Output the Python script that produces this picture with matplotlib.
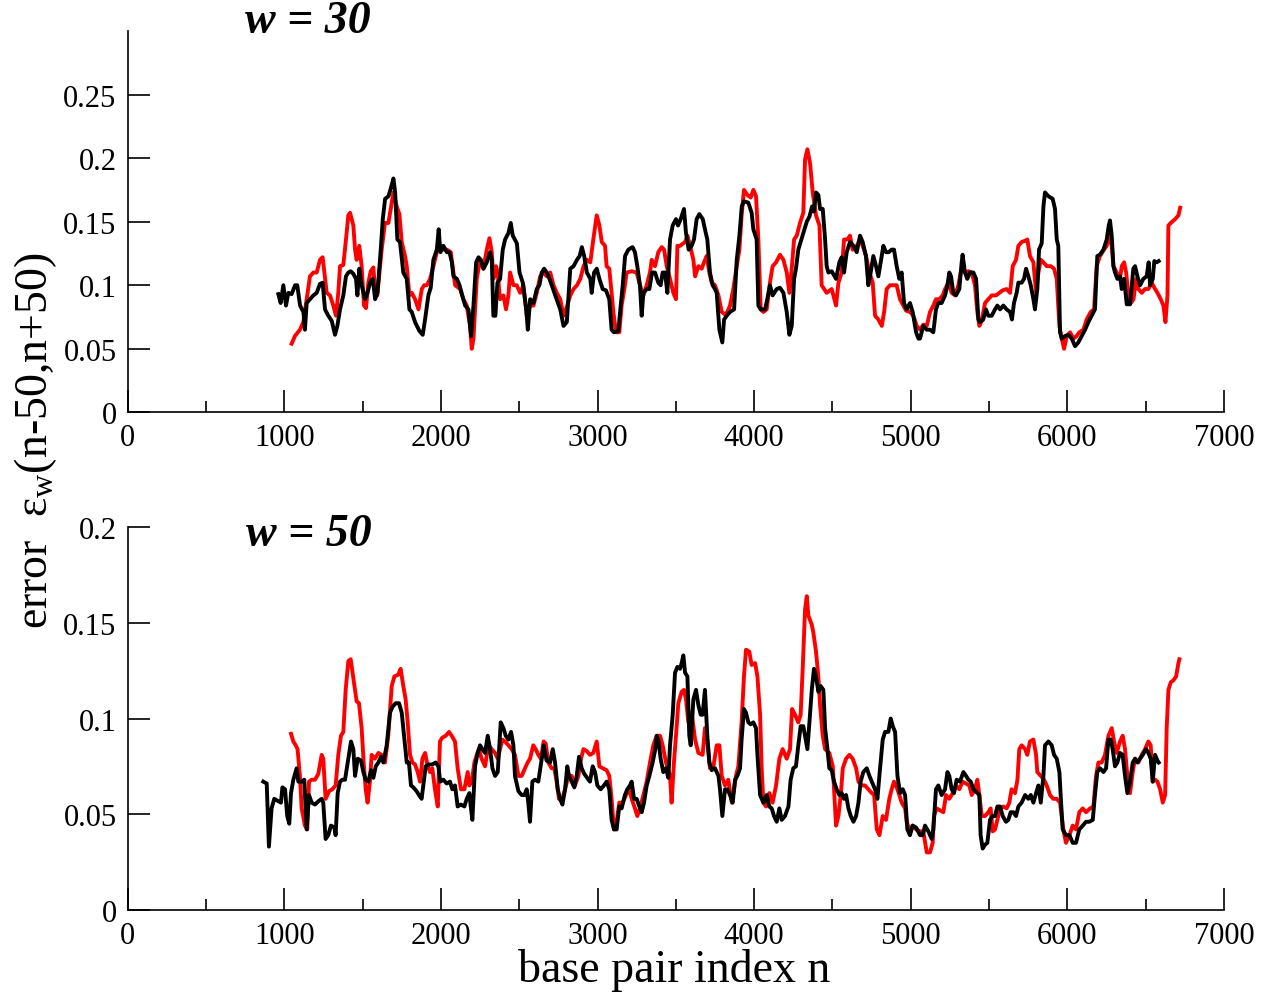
import numpy as np
import matplotlib
matplotlib.use('Agg')
import matplotlib.pyplot as plt
from matplotlib.ticker import MultipleLocator

plt.rcParams['font.family'] = ['Liberation Serif', 'DejaVu Serif']
plt.rcParams['mathtext.fontset'] = 'custom'
plt.rcParams['mathtext.rm'] = 'Liberation Serif'
plt.rcParams['mathtext.it'] = 'Liberation Serif:italic'

# (base pair index n, error)
# upper panel, w = 30
top_red = [(1047,0.054),(1068,0.060),(1100,0.065),(1122,0.071),(1143,0.089),(1164,0.107),(1186,0.110),(1207,0.110),(1228,0.120),(1245,0.122),(1271,0.094),(1292,0.092),(1313,0.084),(1330,0.076),(1345,0.094),(1356,0.115),(1377,0.116),(1394,0.136),(1409,0.155),(1420,0.157),(1441,0.147),(1452,0.128),(1462,0.120),(1479,0.131),(1494,0.115),(1509,0.084),(1522,0.082),(1537,0.102),(1552,0.111),(1569,0.114),(1579,0.097),(1594,0.092),(1622,0.128),(1643,0.149),(1665,0.149),(1682,0.162),(1697,0.173),(1718,0.162),(1735,0.156),(1750,0.134),(1771,0.123),(1782,0.115),(1799,0.092),(1814,0.094),(1835,0.089),(1857,0.081),(1878,0.097),(1893,0.100),(1910,0.100),(1931,0.105),(1952,0.115),(1974,0.126),(1995,0.131),(2016,0.128),(2038,0.128),(2063,0.126),(2080,0.110),(2091,0.100),(2123,0.097),(2144,0.089),(2165,0.084),(2186,0.068),(2197,0.050),(2208,0.058),(2229,0.105),(2250,0.120),(2271,0.113),(2293,0.128),(2310,0.137),(2325,0.126),(2335,0.105),(2352,0.115),(2361,0.111),(2378,0.089),(2399,0.092),(2416,0.081),(2431,0.092),(2442,0.110),(2463,0.100),(2484,0.100),(2506,0.094),(2527,0.100),(2548,0.076),(2570,0.084),(2591,0.084),(2612,0.094),(2634,0.107),(2655,0.110),(2676,0.107),(2698,0.110),(2719,0.100),(2740,0.094),(2762,0.089),(2783,0.076),(2794,0.079),(2826,0.092),(2847,0.097),(2869,0.100),(2890,0.105),(2911,0.115),(2932,0.120),(2954,0.118),
           (2973,0.136),(2995,0.155),(3012,0.147),(3027,0.134),(3048,0.131),(3058,0.115),(3075,0.113),(3090,0.094),(3101,0.079),(3118,0.063),(3139,0.063),(3154,0.084),(3175,0.100),(3186,0.110),(3218,0.111),(3250,0.110),(3271,0.100),(3293,0.092),(3314,0.100),(3335,0.110),(3346,0.120),(3367,0.115),(3388,0.126),(3410,0.130),(3425,0.128),(3442,0.115),(3463,0.105),(3484,0.094),(3501,0.089),(3510,0.131),(3527,0.131),(3559,0.134),(3574,0.139),(3591,0.131),(3612,0.120),(3623,0.107),(3644,0.115),(3665,0.113),(3680,0.118),(3697,0.123),(3714,0.110),(3729,0.102),(3750,0.100),(3772,0.092),(3793,0.079),(3814,0.077),(3829,0.079),(3846,0.084),(3867,0.097),(3889,0.115),(3906,0.128),(3920,0.155),(3935,0.175),(3957,0.171),(3978,0.169),(3995,0.175),(4012,0.170),(4027,0.136),(4042,0.081),(4059,0.079),(4080,0.081),(4101,0.102),(4118,0.115),(4140,0.118),(4165,0.124),(4187,0.120),(4208,0.110),(4225,0.094),(4240,0.113),(4255,0.136),(4272,0.139),(4293,0.149),(4314,0.157),(4325,0.199),(4340,0.207),(4357,0.196),(4374,0.173),(4395,0.155),(4417,0.147),(4431,0.100),(4463,0.094),(4495,0.097),(4523,0.084),(4538,0.102),(4559,0.110),(4574,0.136),(4595,0.136),(4612,0.139),(4629,0.128),(4655,0.131),(4676,0.136),(4693,0.131),(4714,0.123),(4736,0.110),(4757,0.102),(4772,0.076),(4793,0.073),(4815,0.068),(4830,0.079),(4846,0.097),(4868,0.100),(4889,0.100),(4910,0.100),(4931,0.089),(4953,0.084),(4970,0.080),(4995,0.079),(5017,0.076),(5038,0.068),(5059,0.065),
           (5080,0.069),(5102,0.068),(5123,0.079),(5144,0.084),(5161,0.089),(5182,0.089),(5204,0.092),(5219,0.097),(5240,0.102),(5261,0.094),(5283,0.092),(5304,0.100),(5319,0.110),(5331,0.115),(5346,0.110),(5368,0.111),(5389,0.110),(5410,0.100),(5425,0.079),(5438,0.068),(5453,0.072),(5474,0.086),(5495,0.089),(5517,0.092),(5544,0.092),(5566,0.094),(5587,0.096),(5612,0.097),(5634,0.094),(5651,0.115),(5672,0.120),(5687,0.131),(5708,0.134),(5730,0.135),(5744,0.136),(5761,0.123),(5783,0.118),(5800,0.094),(5815,0.110),(5830,0.120),(5847,0.118),(5868,0.115),(5894,0.115),(5915,0.113),(5932,0.105),(5949,0.068),(5964,0.058),(5979,0.050),(5996,0.060),(6017,0.063),(6038,0.058),(6059,0.060),(6076,0.063),(6102,0.065),(6123,0.073),(6149,0.079),(6170,0.081),(6187,0.115),(6208,0.123),(6234,0.128),(6251,0.131),(6268,0.139),(6283,0.131),(6294,0.115),(6315,0.110),(6336,0.105),(6347,0.115),(6362,0.118),(6375,0.110),(6390,0.092),(6405,0.086),(6422,0.089),(6439,0.105),(6454,0.097),(6475,0.094),(6496,0.097),(6517,0.097),(6538,0.102),(6560,0.097),(6575,0.094),(6596,0.089),(6613,0.084),(6626,0.071),(6639,0.092),(6645,0.147),(6660,0.149),(6688,0.152),(6709,0.155),(6720,0.161)]

top_black = [(962,0.093),(977,0.086),(994,0.100),(1011,0.084),(1026,0.094),(1047,0.093),(1069,0.100),(1083,0.100),(1101,0.084),(1122,0.079),(1132,0.065),(1143,0.086),(1164,0.089),(1186,0.092),(1207,0.094),(1228,0.101),(1245,0.102),(1260,0.081),(1281,0.076),(1303,0.072),(1324,0.061),(1339,0.068),(1356,0.081),(1377,0.092),(1394,0.107),(1409,0.110),(1424,0.111),(1441,0.109),(1458,0.105),(1467,0.092),(1479,0.113),(1494,0.100),(1516,0.089),(1531,0.094),(1548,0.102),(1565,0.105),(1580,0.089),(1595,0.094),(1616,0.128),(1629,0.152),(1644,0.168),(1665,0.170),(1682,0.177),(1697,0.184),(1708,0.173),(1722,0.136),(1739,0.134),(1760,0.110),(1782,0.105),(1799,0.081),(1814,0.079),(1835,0.071),(1863,0.064),(1884,0.061),(1899,0.073),(1920,0.092),(1935,0.098),(1952,0.120),(1974,0.128),(1986,0.144),(1997,0.126),(2016,0.131),(2038,0.126),(2055,0.126),(2070,0.118),(2080,0.107),(2102,0.105),(2119,0.100),(2136,0.092),(2155,0.084),(2176,0.081),(2193,0.060),(2208,0.084),(2225,0.118),(2240,0.122),(2255,0.120),(2272,0.113),(2293,0.118),(2314,0.126),(2325,0.120),(2335,0.076),(2348,0.076),(2361,0.102),(2378,0.105),(2395,0.128),(2410,0.136),(2431,0.141),(2446,0.149),(2459,0.139),(2485,0.133),(2502,0.110),(2523,0.102),(2545,0.081),(2555,0.065),(2570,0.089),(2591,0.086),(2612,0.097),(2629,0.100),(2644,0.110),(2659,0.113),(2676,0.110),(2693,0.105),(2708,0.100),(2730,0.092),(2762,0.081),(2783,0.068),(2804,0.071),(2826,0.113),(2847,0.115),(2869,0.120),(2886,0.123),(2900,0.130),(2915,0.123),(2932,0.110),(2954,0.105),
             (2963,0.094),(2978,0.110),(2995,0.113),(3012,0.105),(3033,0.097),(3054,0.096),(3075,0.089),(3090,0.065),(3105,0.063),(3133,0.064),(3148,0.084),(3161,0.100),(3176,0.123),(3197,0.128),(3224,0.130),(3239,0.126),(3254,0.115),(3271,0.100),(3282,0.076),(3293,0.094),(3314,0.097),(3331,0.097),(3348,0.110),(3367,0.110),(3388,0.102),(3403,0.100),(3416,0.110),(3431,0.110),(3446,0.094),(3463,0.136),(3480,0.147),(3501,0.152),(3514,0.147),(3531,0.152),(3552,0.160),(3565,0.141),(3582,0.128),(3601,0.131),(3616,0.136),(3633,0.152),(3650,0.156),(3672,0.152),(3686,0.144),(3701,0.136),(3718,0.110),(3735,0.100),(3750,0.097),(3761,0.094),(3778,0.065),(3797,0.055),(3808,0.073),(3825,0.076),(3846,0.079),(3872,0.081),(3889,0.120),(3906,0.139),(3921,0.162),(3935,0.166),(3963,0.165),(3984,0.157),(3995,0.144),(4016,0.136),(4027,0.084),(4042,0.081),(4070,0.081),(4084,0.089),(4101,0.100),(4118,0.092),(4144,0.097),(4165,0.098),(4187,0.094),(4208,0.079),(4225,0.061),(4240,0.068),(4255,0.105),(4267,0.113),(4282,0.128),(4297,0.134),(4314,0.141),(4336,0.150),(4353,0.154),(4370,0.162),(4382,0.158),(4395,0.173),(4410,0.171),(4421,0.160),(4438,0.160),(4453,0.136),(4463,0.115),(4474,0.110),(4495,0.111),(4523,0.105),(4544,0.118),(4559,0.122),(4574,0.110),(4591,0.126),(4612,0.134),(4634,0.131),(4655,0.126),(4676,0.139),(4693,0.134),(4714,0.123),(4729,0.100),(4744,0.110),(4761,0.123),(4778,0.115),(4793,0.107),(4808,0.118),(4825,0.131),(4842,0.126),(4859,0.126),(4878,0.128),(4893,0.128),(4910,0.115),(4927,0.105),(4942,0.110),(4957,0.086),(4974,0.081),(4995,0.086),(5012,0.079),(5034,0.063),(5049,0.058),
             (5059,0.058),(5080,0.068),(5102,0.065),(5123,0.065),(5144,0.063),(5161,0.081),(5176,0.086),(5197,0.086),(5219,0.092),(5234,0.100),(5246,0.110),(5257,0.107),(5272,0.094),(5289,0.092),(5310,0.097),(5325,0.118),(5331,0.124),(5346,0.110),(5361,0.105),(5378,0.110),(5400,0.110),(5417,0.105),(5432,0.073),(5442,0.071),(5463,0.073),(5480,0.081),(5495,0.076),(5517,0.076),(5538,0.081),(5553,0.084),(5570,0.081),(5591,0.084),(5612,0.081),(5634,0.079),(5646,0.073),(5659,0.086),(5676,0.094),(5687,0.102),(5708,0.102),(5723,0.105),(5736,0.113),(5751,0.107),(5766,0.100),(5783,0.089),(5793,0.081),(5808,0.097),(5819,0.128),(5836,0.133),(5847,0.162),(5857,0.173),(5879,0.170),(5906,0.168),(5921,0.160),(5932,0.136),(5942,0.131),(5953,0.063),(5964,0.058),(5985,0.060),(6006,0.061),(6028,0.058),(6049,0.052),(6070,0.055),(6091,0.060),(6113,0.065),(6134,0.071),(6155,0.076),(6176,0.081),(6191,0.123),(6208,0.124),(6230,0.128),(6251,0.136),(6264,0.147),(6272,0.151),(6283,0.139),(6294,0.115),(6304,0.110),(6319,0.105),(6336,0.107),(6347,0.097),(6362,0.105),(6379,0.085),(6400,0.085),(6421,0.113),(6432,0.115),(6447,0.107),(6464,0.100),(6485,0.105),(6506,0.107),(6519,0.118),(6528,0.100),(6545,0.105),(6555,0.119),(6570,0.118),(6583,0.119)]

# lower panel, w = 50
bot_red = [(1043,0.092),(1058,0.088),(1073,0.086),(1085,0.084),(1100,0.070),(1111,0.053),(1132,0.044),(1147,0.042),(1158,0.067),(1175,0.068),(1196,0.068),(1217,0.071),(1239,0.081),(1249,0.079),(1264,0.058),(1286,0.062),(1307,0.063),(1328,0.065),(1345,0.081),(1362,0.091),(1377,0.093),(1392,0.115),(1409,0.130),(1424,0.131),(1441,0.121),(1462,0.109),(1477,0.108),(1494,0.095),(1507,0.077),(1520,0.063),(1532,0.056),(1547,0.067),(1558,0.081),(1579,0.079),(1601,0.082),(1622,0.081),(1643,0.077),(1664,0.091),(1686,0.117),(1703,0.122),(1728,0.123),(1743,0.126),(1760,0.117),(1775,0.110),(1788,0.098),(1803,0.081),(1818,0.077),(1835,0.076),(1852,0.072),(1867,0.067),(1882,0.079),(1899,0.082),(1916,0.075),(1931,0.072),(1945,0.074),(1962,0.063),(1980,0.054),(1994,0.088),(2009,0.090),(2031,0.091),(2052,0.093),(2069,0.091),(2090,0.088),(2107,0.074),(2128,0.063),(2150,0.063),(2171,0.072),(2182,0.065),(2197,0.067),(2214,0.077),(2229,0.081),(2243,0.084),(2260,0.079),(2282,0.075),(2303,0.086),(2324,0.084),(2346,0.082),(2363,0.079),(2378,0.084),(2392,0.089),(2409,0.088),(2431,0.086),(2452,0.084),(2473,0.081),(2495,0.070),(2516,0.070),(2537,0.074),(2554,0.077),(2569,0.079),(2590,0.086),(2605,0.084),(2622,0.081),(2639,0.079),(2656,0.088),(2669,0.087),(2686,0.077),(2707,0.074),(2724,0.074),(2739,0.067),(2754,0.058),(2771,0.057),(2793,0.063),(2814,0.070),(2835,0.070),(2856,0.065),(2878,0.070),(2895,0.079),(2910,0.084),(2931,0.083),
           (2952,0.081),(2973,0.082),(2995,0.088),(3012,0.075),(3033,0.074),(3058,0.073),(3075,0.070),(3090,0.058),(3105,0.042),(3122,0.046),(3139,0.056),(3161,0.056),(3182,0.060),(3203,0.063),(3218,0.058),(3239,0.053),(3254,0.049),(3271,0.053),(3293,0.060),(3314,0.067),(3335,0.077),(3356,0.086),(3378,0.091),(3399,0.091),(3416,0.086),(3437,0.077),(3463,0.070),(3473,0.056),(3488,0.077),(3501,0.091),(3516,0.108),(3537,0.114),(3552,0.115),(3565,0.110),(3580,0.098),(3601,0.103),(3623,0.089),(3644,0.082),(3671,0.081),(3686,0.095),(3701,0.088),(3718,0.074),(3740,0.075),(3761,0.086),(3778,0.086),(3793,0.070),(3814,0.065),(3835,0.068),(3857,0.056),(3872,0.063),(3884,0.070),(3899,0.075),(3920,0.098),(3935,0.122),(3948,0.136),(3969,0.135),(3984,0.128),(4006,0.129),(4021,0.122),(4038,0.102),(4048,0.074),(4059,0.056),(4076,0.054),(4097,0.061),(4118,0.056),(4140,0.065),(4161,0.079),(4182,0.084),(4208,0.079),(4229,0.084),(4242,0.105),(4261,0.102),(4282,0.098),(4297,0.102),(4310,0.126),(4325,0.157),(4336,0.164),(4346,0.154),(4368,0.149),(4378,0.145),(4395,0.135),(4410,0.122),(4421,0.107),(4438,0.091),(4453,0.084),(4480,0.082),(4502,0.075),(4523,0.044),(4538,0.049),(4553,0.060),(4566,0.074),(4587,0.079),(4608,0.081),(4629,0.079),(4651,0.074),(4666,0.067),(4687,0.065),(4708,0.065),(4729,0.063),(4751,0.061),(4766,0.060),(4783,0.042),(4800,0.039),(4821,0.049),(4842,0.047),(4863,0.058),(4878,0.063),(4893,0.067),(4906,0.065),(4927,0.060),(4942,0.056),(4964,0.053),(4974,0.046),(4991,0.042),(5012,0.044),(5034,0.042),(5059,0.041),
           (5080,0.041),(5102,0.030),(5123,0.030),(5140,0.035),(5148,0.049),(5165,0.053),(5187,0.052),(5208,0.051),(5225,0.060),(5246,0.058),(5268,0.061),(5289,0.065),(5310,0.063),(5331,0.067),(5353,0.066),(5374,0.065),(5389,0.060),(5410,0.063),(5425,0.068),(5438,0.060),(5453,0.049),(5474,0.049),(5495,0.051),(5510,0.053),(5523,0.041),(5538,0.042),(5553,0.047),(5570,0.053),(5591,0.054),(5612,0.053),(5629,0.056),(5644,0.063),(5666,0.061),(5681,0.068),(5693,0.084),(5708,0.086),(5730,0.084),(5744,0.081),(5761,0.088),(5783,0.089),(5800,0.081),(5808,0.072),(5830,0.070),(5851,0.068),(5868,0.065),(5889,0.060),(5910,0.058),(5932,0.058),(5953,0.056),(5974,0.042),(5991,0.035),(6013,0.039),(6034,0.044),(6055,0.042),(6076,0.051),(6098,0.053),(6119,0.051),(6145,0.053),(6166,0.054),(6183,0.070),(6198,0.077),(6219,0.077),(6240,0.081),(6262,0.091),(6283,0.095),(6298,0.088),(6315,0.082),(6336,0.088),(6353,0.091),(6368,0.084),(6383,0.070),(6400,0.061),(6417,0.072),(6432,0.079),(6453,0.077),(6475,0.081),(6496,0.084),(6517,0.088),(6532,0.086),(6545,0.067),(6560,0.068),(6575,0.067),(6592,0.063),(6609,0.056),(6624,0.060),(6634,0.095),(6645,0.115),(6660,0.119),(6677,0.120),(6694,0.122),(6709,0.129),(6715,0.131)]

bot_black = [(866,0.067),(888,0.066),(902,0.033),(919,0.053),(936,0.058),(958,0.057),(979,0.056),(988,0.064),(1005,0.063),(1019,0.049),(1032,0.045),(1043,0.061),(1058,0.068),(1079,0.074),(1090,0.067),(1111,0.067),(1128,0.068),(1143,0.042),(1158,0.060),(1175,0.056),(1196,0.055),(1222,0.057),(1239,0.058),(1249,0.056),(1264,0.037),(1281,0.039),(1298,0.044),(1320,0.043),(1328,0.039),(1341,0.061),(1356,0.067),(1371,0.068),(1388,0.068),(1405,0.077),(1426,0.088),(1441,0.084),(1452,0.070),(1469,0.079),(1490,0.078),(1505,0.072),(1520,0.068),(1537,0.067),(1554,0.073),(1569,0.069),(1584,0.075),(1601,0.077),(1618,0.080),(1633,0.077),(1654,0.086),(1675,0.103),(1690,0.106),(1711,0.108),(1733,0.108),(1750,0.103),(1767,0.089),(1782,0.077),(1796,0.077),(1809,0.065),(1824,0.064),(1845,0.062),(1860,0.060),(1877,0.058),(1888,0.065),(1903,0.075),(1924,0.076),(1945,0.076),(1967,0.077),(1984,0.075),(1996,0.067),(2016,0.068),(2037,0.066),(2058,0.067),(2073,0.063),(2090,0.065),(2107,0.054),(2128,0.055),(2150,0.054),(2165,0.058),(2182,0.061),(2192,0.053),(2201,0.047),(2218,0.075),(2235,0.082),(2250,0.086),(2265,0.084),(2282,0.082),(2299,0.091),(2314,0.084),(2329,0.074),(2346,0.070),(2363,0.072),(2382,0.098),(2399,0.095),(2414,0.091),(2431,0.089),(2448,0.093),(2463,0.086),(2473,0.070),(2495,0.062),(2516,0.060),(2533,0.060),(2548,0.063),(2558,0.056),(2569,0.046),(2584,0.067),(2601,0.068),(2622,0.067),(2644,0.079),(2656,0.086),(2675,0.078),(2697,0.077),(2714,0.084),(2729,0.077),(2746,0.063),(2761,0.058),(2776,0.055),(2793,0.063),(2807,0.075),(2818,0.070),(2835,0.067),(2852,0.064),(2867,0.070),(2882,0.080),(2899,0.074),(2916,0.071),(2942,0.068),
             (2952,0.067),(2969,0.075),(2984,0.072),(2999,0.065),(3020,0.063),(3041,0.065),(3058,0.067),(3075,0.063),(3090,0.047),(3105,0.042),(3122,0.042),(3139,0.054),(3154,0.053),(3175,0.060),(3190,0.063),(3207,0.065),(3218,0.067),(3233,0.058),(3250,0.058),(3267,0.054),(3282,0.051),(3297,0.056),(3314,0.065),(3331,0.070),(3352,0.077),(3369,0.084),(3378,0.091),(3390,0.088),(3403,0.079),(3420,0.072),(3437,0.074),(3452,0.069),(3463,0.086),(3480,0.102),(3495,0.124),(3510,0.127),(3527,0.126),(3537,0.129),(3548,0.133),(3559,0.124),(3574,0.122),(3586,0.091),(3595,0.086),(3612,0.110),(3629,0.115),(3644,0.107),(3659,0.102),(3671,0.102),(3686,0.115),(3701,0.091),(3714,0.077),(3729,0.073),(3750,0.074),(3772,0.070),(3782,0.063),(3797,0.049),(3814,0.063),(3829,0.063),(3846,0.060),(3863,0.056),(3878,0.068),(3893,0.070),(3910,0.074),(3920,0.089),(3935,0.105),(3948,0.103),(3963,0.098),(3978,0.097),(3995,0.098),(4012,0.095),(4021,0.081),(4038,0.060),(4059,0.056),(4080,0.060),(4097,0.054),(4112,0.053),(4127,0.049),(4144,0.046),(4161,0.053),(4176,0.047),(4197,0.049),(4219,0.054),(4233,0.068),(4250,0.074),(4267,0.075),(4282,0.086),(4297,0.096),(4314,0.096),(4325,0.091),(4340,0.084),(4353,0.098),(4368,0.115),(4382,0.126),(4395,0.122),(4410,0.114),(4425,0.117),(4442,0.115),(4453,0.095),(4468,0.084),(4480,0.074),(4495,0.073),(4510,0.067),(4527,0.063),(4544,0.060),(4559,0.061),(4574,0.058),(4587,0.060),(4602,0.053),(4617,0.049),(4634,0.046),(4651,0.049),(4666,0.056),(4680,0.067),(4697,0.072),(4719,0.074),(4736,0.070),(4751,0.067),(4772,0.063),(4787,0.058),(4804,0.074),(4821,0.089),(4836,0.093),(4857,0.093),(4872,0.100),(4885,0.096),(4900,0.093),(4915,0.070),(4932,0.061),(4949,0.063),(4964,0.060),(4978,0.042),(4995,0.039),(5012,0.044),(5034,0.043),(5059,0.039),
             (5076,0.039),(5091,0.044),(5112,0.041),(5134,0.037),(5144,0.042),(5161,0.063),(5176,0.065),(5197,0.060),(5219,0.063),(5234,0.072),(5246,0.070),(5261,0.063),(5276,0.061),(5293,0.068),(5314,0.067),(5336,0.072),(5353,0.070),(5368,0.068),(5383,0.067),(5400,0.063),(5425,0.061),(5438,0.060),(5446,0.039),(5459,0.032),(5474,0.034),(5489,0.035),(5506,0.047),(5523,0.049),(5538,0.049),(5553,0.054),(5570,0.054),(5587,0.049),(5608,0.046),(5623,0.047),(5638,0.051),(5655,0.051),(5672,0.049),(5687,0.054),(5708,0.056),(5730,0.060),(5751,0.058),(5766,0.060),(5783,0.056),(5800,0.061),(5815,0.065),(5830,0.056),(5847,0.070),(5857,0.086),(5879,0.088),(5900,0.086),(5915,0.081),(5932,0.079),(5949,0.072),(5957,0.060),(5970,0.042),(5991,0.039),(6013,0.039),(6034,0.035),(6055,0.035),(6076,0.042),(6098,0.044),(6119,0.046),(6140,0.046),(6162,0.047),(6176,0.060),(6191,0.072),(6208,0.074),(6230,0.072),(6247,0.074),(6262,0.089),(6277,0.089),(6289,0.084),(6304,0.075),(6319,0.077),(6336,0.082),(6353,0.081),(6368,0.070),(6383,0.061),(6400,0.067),(6417,0.077),(6432,0.079),(6447,0.077),(6464,0.079),(6481,0.081),(6502,0.084),(6517,0.082),(6532,0.079),(6545,0.067),(6560,0.081),(6575,0.078),(6583,0.077)]

x_ticks = [0, 1000, 2000, 3000, 4000, 5000, 6000, 7000]
x_labels = ['0', '1000', '2000', '3000', '4000', '5000', '6000', '7000']
top_yticks = [0, 0.05, 0.1, 0.15, 0.2, 0.25]
top_ylabels = ['0', '0.05', '0.1', '0.15', '0.2', '0.25']
bot_yticks = [0, 0.05, 0.1, 0.15, 0.2]
bot_ylabels = ['0', '0.05', '0.1', '0.15', '0.2']

fig = plt.figure(figsize=(12.65, 9.95), dpi=100)
ax1 = fig.add_axes([0.1009, 0.5846, 0.8667, 0.3832])
ax2 = fig.add_axes([0.1009, 0.0847, 0.8667, 0.3843])


def style_axis(ax, ymax, yticks, ylabels):
    ax.set_xlim(0, 7000)
    ax.set_ylim(0, ymax)
    for s in ['top', 'right']:
        ax.spines[s].set_visible(False)
    for s in ['left', 'bottom']:
        ax.spines[s].set_linewidth(1.2)
    ax.set_xticks(x_ticks)
    ax.set_xticklabels(x_labels)
    ax.xaxis.set_minor_locator(MultipleLocator(500))
    ax.set_yticks(yticks)
    ax.set_yticklabels(ylabels)
    ax.tick_params(which='major', direction='in', length=16, width=1.2,
                   labelsize=22, pad=8, top=False, right=False)
    ax.tick_params(which='minor', direction='in', length=8, width=1.2,
                   top=False, right=False)
    ax.tick_params(axis='y', which='minor', left=False)


for ax, red, black, ymax, yt, yl in [(ax1, top_red, top_black, 0.3, top_yticks, top_ylabels),
                                     (ax2, bot_red, bot_black, 0.2, bot_yticks, bot_ylabels)]:
    rn, rv = zip(*red)
    bn, bv = zip(*black)
    ax.plot(rn, rv, color='red', lw=2.8)
    ax.plot(bn, bv, color='black', lw=2.8)
    style_axis(ax, ymax, yt, yl)

fig.text(0.243, 0.978, 'w = 30', fontsize=33, fontweight='bold', style='italic',
         ha='center', va='center')
fig.text(0.244, 0.462, 'w = 50', fontsize=33, fontweight='bold', style='italic',
         ha='center', va='center')
fig.text(0.028, 0.557, 'error  ε$_{\\mathrm{w}}$(n-50,n+50)', fontsize=33,
         rotation=90, ha='center', va='center')
fig.text(0.533, 0.025, 'base pair index n', fontsize=33, ha='center', va='center')

fig.savefig('out.png', dpi=100)
